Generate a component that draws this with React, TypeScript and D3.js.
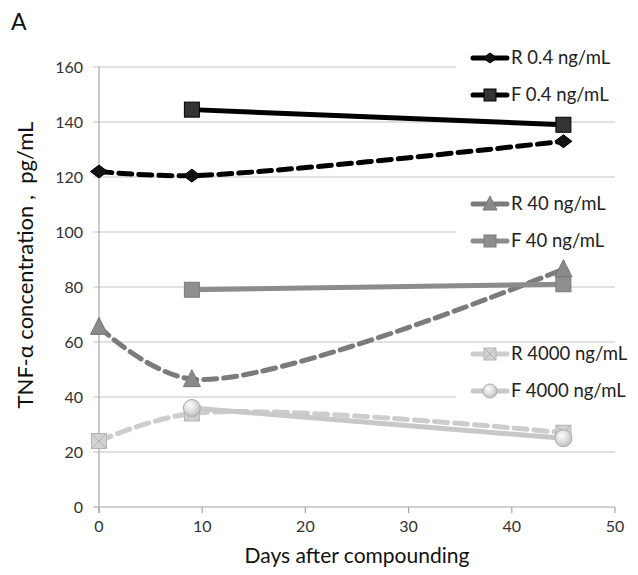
import React from "react";
import * as d3 from "d3";

const days0 = [0, 9, 45];
const days9 = [9, 45];
const r04 = [122, 120.5, 133];
const f04 = [144.5, 139];
const r40 = [65.5, 46.5, 86.5];
const f40 = [79, 81];
const r4000 = [24, 34, 27];
const f4000 = [36, 25];
const xTicks = [0, 10, 20, 30, 40, 50];
const yTicks = [0, 20, 40, 60, 80, 100, 120, 140, 160];
const legendNames = ["R 0.4 ng/mL", "F 0.4 ng/mL", "R 40 ng/mL", "F 40 ng/mL", "R 4000 ng/mL", "F 4000 ng/mL"];

const W = 638, H = 575;
const x = d3.scaleLinear().domain([0, 50]).range([99, 615]);
const y = d3.scaleLinear().domain([0, 160]).range([507, 67]);

type Series = {
  name: string; xs: number[]; ys: number[]; color: string; dashed: boolean;
  marker: string; mfill: string; mstroke: string; legendY: number;
};

const series: Series[] = [
  { name: legendNames[0], xs: days0, ys: r04, color: "#000", dashed: true, marker: "diamond", mfill: "#111", mstroke: "#000", legendY: 58 },
  { name: legendNames[1], xs: days9, ys: f04, color: "#000", dashed: false, marker: "square", mfill: "#333", mstroke: "#000", legendY: 95 },
  { name: legendNames[2], xs: days0, ys: r40, color: "#7b7b7b", dashed: true, marker: "triangle", mfill: "#8a8a8a", mstroke: "#777", legendY: 204 },
  { name: legendNames[3], xs: days9, ys: f40, color: "#8c8c8c", dashed: false, marker: "square", mfill: "#8e8e8e", mstroke: "#7a7a7a", legendY: 241 },
  { name: legendNames[4], xs: days0, ys: r4000, color: "#cdcdcd", dashed: true, marker: "xsquare", mfill: "#d2d2d2", mstroke: "#b4b4b4", legendY: 354 },
  { name: legendNames[5], xs: days9, ys: f4000, color: "#c8c8c8", dashed: false, marker: "circle", mfill: "url(#cgrad)", mstroke: "#aaa", legendY: 391 },
];

function Marker({ kind, cx, cy, fill, stroke, s = 7.5 }: { kind: string; cx: number; cy: number; fill: string; stroke: string; s?: number }) {
  if (kind === "diamond") {
    return <path d={`M${cx - s - 1},${cy} L${cx},${cy - s + 1} L${cx + s + 1},${cy} L${cx},${cy + s - 1} Z`} fill={fill} stroke={stroke} strokeWidth={1} />;
  }
  if (kind === "square") {
    return <rect x={cx - s} y={cy - s} width={2 * s} height={2 * s} fill={fill} stroke={stroke} strokeWidth={1} />;
  }
  if (kind === "triangle") {
    return <path d={`M${cx},${cy - s - 2} L${cx + s + 1},${cy + s} L${cx - s - 1},${cy + s} Z`} fill={fill} stroke={stroke} strokeWidth={1} />;
  }
  if (kind === "xsquare") {
    return (
      <g>
        <rect x={cx - s} y={cy - s} width={2 * s} height={2 * s} fill={fill} stroke={stroke} strokeWidth={1} />
        <path d={`M${cx - s},${cy - s} L${cx + s},${cy + s} M${cx + s},${cy - s} L${cx - s},${cy + s}`} stroke={stroke} strokeWidth={1} />
      </g>
    );
  }
  return <circle cx={cx} cy={cy} r={s + 1} fill={fill} stroke={stroke} strokeWidth={1} />;
}

export default function App() {
  const line = d3.line<[number, number]>().x(d => x(d[0])).y(d => y(d[1])).curve(d3.curveCatmullRom.alpha(0.5));
  const straight = d3.line<[number, number]>().x(d => x(d[0])).y(d => y(d[1]));
  const font = "Lato, 'Open Sans', sans-serif";
  return (
    <svg width={W} height={H} style={{ position: "absolute", left: 0, top: 0, background: "#fff" }} fontFamily={font}>
      <defs>
        <radialGradient id="cgrad" cx="0.4" cy="0.35" r="0.7">
          <stop offset="0" stopColor="#ffffff" />
          <stop offset="1" stopColor="#bdbdbd" />
        </radialGradient>
      </defs>
      <rect width={W} height={H} fill="#fff" />
      <text x={11} y={30} fontSize={23} fill="#111">A</text>
      {/* gridlines */}
      {yTicks.filter(t => t > 0).map(t => (
        <line key={t} x1={x(0) - 6} x2={x(50)} y1={y(t)} y2={y(t)} stroke="#c4c4c4" strokeWidth={1.2} />
      ))}
      {/* axes */}
      <line x1={x(0)} x2={x(0)} y1={y(160)} y2={y(0) + 6} stroke="#a6a6a6" strokeWidth={1.2} />
      <line x1={x(0) - 6} x2={x(50)} y1={y(0)} y2={y(0)} stroke="#a6a6a6" strokeWidth={1.2} />
      {xTicks.map(t => (
        <g key={t}>
          <line x1={x(t)} x2={x(t)} y1={y(0)} y2={y(0) + 6} stroke="#a6a6a6" strokeWidth={1.2} />
          <text x={x(t)} y={y(0) + 25} textAnchor="middle" fontSize={16} fill="#333">{t}</text>
        </g>
      ))}
      {yTicks.map(t => (
        <text key={t} x={x(0) - 16} y={y(t) + 6} textAnchor="end" fontSize={16} fill="#333">{t}</text>
      ))}
      <text x={357} y={563} textAnchor="middle" fontSize={21} fill="#111">Days after compounding</text>
      <text transform={`translate(33,265) rotate(-90)`} textAnchor="middle" fontSize={22} fill="#111" style={{ whiteSpace: "pre" }}>{"TNF-α concentration ,  pg/mL"}</text>
      {/* legend backgrounds */}
      <rect x={456} y={44} width={182} height={66} fill="#fff" />
      <rect x={456} y={190} width={182} height={66} fill="#fff" />
      <rect x={456} y={345} width={182} height={60} fill="#fff" />
      {/* series */}
      {series.map(s => {
        const pts = s.xs.map((d, i) => [d, s.ys[i]] as [number, number]);
        return (
          <g key={s.name}>
            <path d={(s.dashed ? line(pts) : straight(pts)) || ""} fill="none" stroke={s.color} strokeWidth={5}
              strokeDasharray={s.dashed ? "13,7" : undefined} strokeLinecap="round" />
            {pts.map((p, i) => (
              <Marker key={i} kind={s.marker} cx={x(p[0])} cy={y(p[1])} fill={s.mfill} stroke={s.mstroke} />
            ))}
          </g>
        );
      })}
      {/* legend */}
      {series.map(s => (
        <g key={"lg" + s.name}>
          <line x1={473} x2={507} y1={s.legendY} y2={s.legendY} stroke={s.color} strokeWidth={5}
            strokeDasharray={s.dashed ? "15,4" : undefined} strokeLinecap="round" />
          <Marker kind={s.marker} cx={490} cy={s.legendY} fill={s.mfill} stroke={s.mstroke} s={6} />
          <text x={511} y={s.legendY + 6} fontSize={18.5} fill="#222">{s.name}</text>
        </g>
      ))}
    </svg>
  );
}
